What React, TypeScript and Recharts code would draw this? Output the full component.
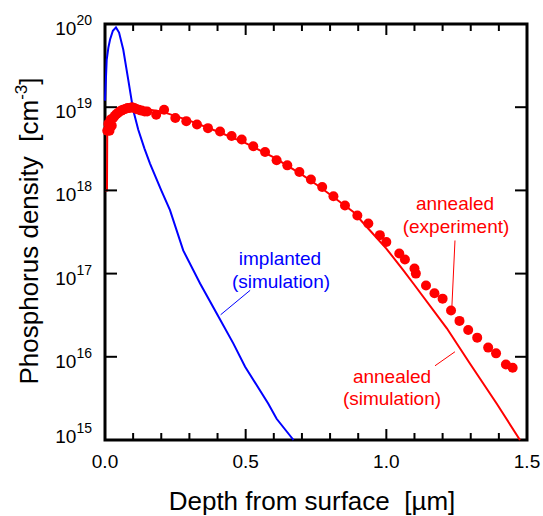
import React from "react";
import {
  ComposedChart,
  Line,
  Scatter,
  XAxis,
  YAxis,
  ReferenceLine,
  ReferenceArea,
} from "recharts";

// depth [µm]
const implantDepth = [0, 0.006, 0.012, 0.018, 0.028, 0.039, 0.05, 0.065, 0.083, 0.1, 0.118, 0.14, 0.16, 0.2, 0.231, 0.278, 0.338, 0.409, 0.456, 0.498, 0.58, 0.61, 0.67];
// phosphorus density [cm^-3]
const implantDensity = [1.2e19, 3.7e19, 5.2e19, 6.5e19, 8.3e19, 9.1e19, 7.9e19, 4.9e19, 2.1e19, 9.3e18, 5.4e18, 3.2e18, 2.1e18, 1.0e18, 5.8e17, 1.9e17, 7.6e16, 2.8e16, 1.45e16, 7.6e15, 2.75e15, 1.8e15, 1.0e15];

const annealSimDepth = [0, 0.007, 0.008, 0.02, 0.05, 0.1, 0.2, 0.3, 0.4, 0.5, 0.6, 0.7, 0.764, 0.883, 0.942, 1.0, 1.06, 1.096, 1.215, 1.297, 1.392, 1.475];
const annealSimDensity = [1.0e18, 1.0e18, 5.6e18, 7.1e18, 8.9e18, 1.0e19, 8.9e18, 6.9e18, 5.1e18, 3.7e18, 2.5e18, 1.55e18, 1.1e18, 5.5e17, 3.3e17, 2.0e17, 1.1e17, 7.6e16, 2.2e16, 8.3e15, 2.75e15, 1.0e15];

const expDepth = [0.008, 0.012, 0.016, 0.02, 0.024, 0.029, 0.035, 0.041, 0.046, 0.052, 0.058, 0.064, 0.072, 0.08, 0.088, 0.096, 0.104, 0.111, 0.12, 0.13, 0.141, 0.15, 0.182, 0.21, 0.25, 0.289, 0.327, 0.366, 0.409, 0.45, 0.486, 0.527, 0.569, 0.61, 0.648, 0.691, 0.732, 0.772, 0.812, 0.853, 0.897, 0.936, 0.977, 1.0, 1.046, 1.066, 1.1, 1.105, 1.141, 1.171, 1.2, 1.23, 1.26, 1.291, 1.323, 1.362, 1.39, 1.425, 1.449];
const expDensity = [5.2e18, 6.3e18, 5.2e18, 7.1e18, 6.0e18, 7.4e18, 7.9e18, 8.3e18, 8.5e18, 8.9e18, 9.1e18, 9.3e18, 9.5e18, 9.8e18, 9.8e18, 1.0e19, 9.8e18, 9.5e18, 9.3e18, 9.1e18, 8.9e18, 8.9e18, 8.1e18, 9.3e18, 7.4e18, 6.8e18, 6.2e18, 5.6e18, 5.1e18, 4.5e18, 4.1e18, 3.4e18, 2.9e18, 2.3e18, 2.0e18, 1.66e18, 1.35e18, 1.1e18, 8.5e17, 6.6e17, 5.0e17, 4.0e17, 2.9e17, 2.4e17, 1.74e17, 1.48e17, 1.15e17, 1.0e17, 7.2e16, 5.8e16, 5.0e16, 3.6e16, 2.7e16, 2.1e16, 1.7e16, 1.29e16, 1.1e16, 8.1e15, 7.4e15];

const xTicks = [0.1, 0.2, 0.3, 0.4, 0.5, 0.6, 0.7, 0.8, 0.9, 1.0, 1.1, 1.2, 1.3, 1.4];
const xLabels = [0, 0.5, 1.0, 1.5];
const yTicks = [1e15, 1e16, 1e17, 1e18, 1e19, 1e20];
const yInner = [1e16, 1e17, 1e18, 1e19];

const implantData = implantDepth.map((x, i) => ({ x, n: implantDensity[i] }));
const annealSimData = annealSimDepth.map((x, i) => ({ x, n: annealSimDensity[i] }));
const expData = expDepth.map((x, i) => ({ x, n: expDensity[i] }));

const FONT = "'Liberation Sans', Arial, sans-serif";
const RED = "#ff0000";
const BLUE = "#0000ff";

// inward tick lengths: 11px / 7px on a log axis of 83.2px per decade, 12px on x (281px per µm)
const MAJOR = Math.pow(10, 11 / 83.2);
const MINOR = Math.pow(10, 7 / 83.2);
const YTICK = 12 / 281.3;

const isMajor = (v: number) => Math.abs(v * 2 - Math.round(v * 2)) < 1e-6;

function XLabel({ x, y, payload }: any) {
  return (
    <text x={x} y={y + 28} textAnchor="middle" fontFamily={FONT} fontSize={19} fill="#000">
      {(payload.value as number).toFixed(1)}
    </text>
  );
}

function YLabel({ y, payload }: any) {
  const exp = Math.round(Math.log10(payload.value));
  const base = exp === 15 ? y + 3 : y + 11;
  return (
    <text x={92} y={base} textAnchor="end" fontFamily={FONT} fontSize={19} fill="#000">
      10
      <tspan fontSize={14} dy={-10}>
        {exp}
      </tspan>
    </text>
  );
}

const ExpDot = (props: any) => <circle cx={props.cx} cy={props.cy} r={5} fill={RED} />;

export default function App() {
  return (
    <div style={{ position: "relative", width: 543, height: 516 }}>
      <style>{`body{margin:0;overflow:hidden}`}</style>
      <ComposedChart width={543} height={516} margin={{ top: 24, right: 16, bottom: 0, left: 0 }}>
        <XAxis
          dataKey="x"
          type="number"
          domain={[0, 1.5]}
          ticks={xLabels}
          interval={0}
          height={76}
          axisLine={false}
          tickLine={false}
          tickSize={0}
          tickMargin={0}
          tick={<XLabel />}
        />
        <YAxis
          type="number"
          scale="log"
          domain={[1e15, 1e20]}
          ticks={yTicks}
          interval={0}
          width={105}
          axisLine={false}
          tickLine={false}
          tickSize={0}
          tickMargin={0}
          tick={<YLabel />}
        />
        <Line
          data={annealSimData}
          dataKey="n"
          type="linear"
          stroke={RED}
          strokeWidth={2}
          dot={false}
          isAnimationActive={false}
        />
        <Scatter data={expData} dataKey="n" fill={RED} shape={ExpDot} isAnimationActive={false} />
        <Line
          data={implantData}
          dataKey="n"
          type="linear"
          stroke={BLUE}
          strokeWidth={2}
          dot={false}
          isAnimationActive={false}
        />
        <ReferenceLine segment={[{ x: 0.516, y: 6.3e16 }, { x: 0.411, y: 3.2e16 }]} stroke={BLUE} strokeWidth={1} />
        <ReferenceLine segment={[{ x: 1.244, y: 2.5e17 }, { x: 1.233, y: 4.0e16 }]} stroke={RED} strokeWidth={1} />
        <ReferenceLine segment={[{ x: 1.173, y: 7.8e15 }, { x: 1.244, y: 1.15e16 }]} stroke={RED} strokeWidth={1} />
        <ReferenceArea
          x1={0}
          x2={1.5}
          y1={1e15}
          y2={1e20}
          fill="none"
          fillOpacity={0}
          stroke="#000"
          strokeWidth={3}
          ifOverflow="visible"
        />
        {xTicks.map((v) => (
          <ReferenceLine
            key={`b${v}`}
            segment={[{ x: v, y: 1e15 }, { x: v, y: 1e15 * (isMajor(v) ? MAJOR : MINOR) }]}
            stroke="#000"
            strokeWidth={2}
            ifOverflow="visible"
          />
        ))}
        {xTicks.map((v) => (
          <ReferenceLine
            key={`t${v}`}
            segment={[{ x: v, y: 1e20 }, { x: v, y: 1e20 / (isMajor(v) ? MAJOR : MINOR) }]}
            stroke="#000"
            strokeWidth={2}
            ifOverflow="visible"
          />
        ))}
        {yInner.map((v) => (
          <ReferenceLine
            key={`l${v}`}
            segment={[{ x: 0, y: v }, { x: YTICK, y: v }]}
            stroke="#000"
            strokeWidth={2}
            ifOverflow="visible"
          />
        ))}
        {yInner.map((v) => (
          <ReferenceLine
            key={`r${v}`}
            segment={[{ x: 1.5, y: v }, { x: 1.5 - YTICK, y: v }]}
            stroke="#000"
            strokeWidth={2}
            ifOverflow="visible"
          />
        ))}
      </ComposedChart>
      <svg
        width={543}
        height={516}
        style={{ position: "absolute", left: 0, top: 0, pointerEvents: "none" }}
        fontFamily={FONT}
      >
        <text x={280} y={265} textAnchor="middle" fontSize={19} fill={BLUE}>implanted</text>
        <text x={281} y={288} textAnchor="middle" fontSize={19} fill={BLUE}>(simulation)</text>
        <text x={455} y={210} textAnchor="middle" fontSize={19} fill={RED}>annealed</text>
        <text x={456} y={233} textAnchor="middle" fontSize={19} fill={RED}>(experiment)</text>
        <text x={392} y={383} textAnchor="middle" fontSize={19} fill={RED}>annealed</text>
        <text x={392} y={405} textAnchor="middle" fontSize={19} fill={RED}>(simulation)</text>
        <text x={312} y={510} textAnchor="middle" fontSize={26} fill="#000" style={{ whiteSpace: "pre" }}>
          Depth from surface  [µm]
        </text>
        <text
          transform="translate(38,231) rotate(-90)"
          textAnchor="middle"
          fontSize={26}
          fill="#000"
          style={{ whiteSpace: "pre" }}
        >
          Phosphorus density  [cm
          <tspan fontSize={17} dy={-11}>-3</tspan>
          <tspan dy={11}>]</tspan>
        </text>
      </svg>
    </div>
  );
}
